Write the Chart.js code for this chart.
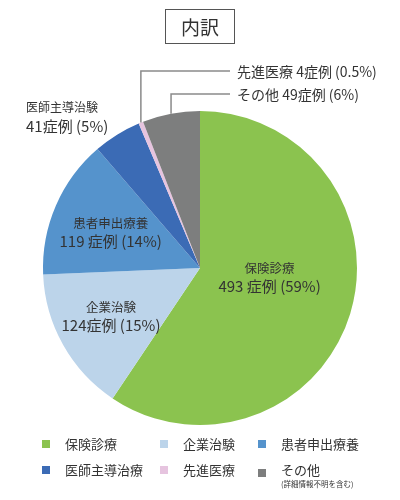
<!DOCTYPE html>
<html>
<head>
<meta charset="utf-8">
<script src="https://cdn.jsdelivr.net/npm/chart.js@4"></script>
<style>
  body { margin:0; background:#fff; font-family:"Noto Sans CJK JP", sans-serif; color:#333; }
  .wrap { position:relative; width:400px; height:500px; }
  #myChart { position:absolute; left:0; top:0; }
  .title { position:absolute; left:165px; top:9px; width:68px; height:33px; border:1px solid #555;
           font-size:19px; line-height:33px; text-align:center; }
  .legend-item { position:absolute; font-size:13px; line-height:16px; white-space:nowrap; }
  .legend-item i { position:absolute; left:-23px; top:4px; width:8px; height:8px; }
  .legend-item small { display:block; font-size:7.5px; line-height:9px; margin-top:1px; }
</style>
</head>
<body>
<div class="wrap">
  <canvas id="myChart" width="400" height="500"></canvas>
  <div class="title">内訳</div>
  <div id="legend"></div>
</div>
<script>
var categories = ['保険診療', '企業治験', '患者申出療養', '医師主導治験', '先進医療', 'その他']
var cases = [493, 124, 119, 41, 4, 49]
var percents = ['59%', '15%', '14%', '5%', '0.5%', '6%']
var legendNames = ['保険診療', '企業治験', '患者申出療養', '医師主導治療', '先進医療', 'その他']
var colors = ['#8bc34f', '#bcd4ea', '#5593cc', '#3b6bb5', '#e6c4df', '#7d7e7e']

// legend (3 columns)
var legendX = [65, 183, 281]
var legendY = [436, 462]
var legend = document.getElementById('legend')
legendNames.forEach(function(name, i){
    var d = document.createElement('div')
    d.className = 'legend-item'
    d.style.left = legendX[i % 3] + 'px'
    d.style.top = legendY[Math.floor(i / 3)] + 'px'
    d.innerHTML = '<i style="background:' + colors[i] + (i == 5 ? ';top:7px' : '') + '"></i>' + name +
        (i == 5 ? '<small>(詳細情報不明を含む)</small>' : '')
    legend.appendChild(d)
})

var font = '"Noto Sans CJK JP", sans-serif'

// label placement per slice
var labels = [
    { type: 'in', f: 0.45, dx: 2, dy: -12, l1: '保険診療', l2: '493 症例 (59%)' },
    { type: 'in', f: 0.65, dx: 0, dy: -3, l1: '企業治験', l2: '124症例 (15%)' },
    { type: 'in', f: 0.62, dx: 0, dy: 2, l1: '患者申出療養', l2: '119 症例 (14%)' },
    { type: 'left', x: 26, y: 107, l1: '医師主導治験', l2: '41症例 (5%)' },
    { type: 'line', y: 71, l1: '先進医療 4症例 (0.5%)' },
    { type: 'line', y: 94, l1: 'その他 49症例 (6%)' }
]

var labelPlugin = {
    id: 'sliceLabels',
    afterDatasetsDraw: function(chart) {
        var ctx = chart.ctx
        var meta = chart.getDatasetMeta(0)
        ctx.save()
        ctx.fillStyle = '#333'
        meta.data.forEach(function(arc, i){
            var p = arc.getProps(['x', 'y', 'startAngle', 'endAngle', 'outerRadius'], true)
            var mid = (p.startAngle + p.endAngle) / 2
            var lb = labels[i]
            if (lb.type == 'in') {
                var x = p.x + Math.cos(mid) * p.outerRadius * lb.f + lb.dx
                var y = p.y + Math.sin(mid) * p.outerRadius * lb.f + lb.dy
                ctx.textAlign = 'center'
                ctx.textBaseline = 'middle'
                ctx.font = '12.5px ' + font
                ctx.fillText(lb.l1, x, y - 8)
                ctx.font = '15px ' + font
                ctx.fillText(lb.l2, x, y + 10)
            } else if (lb.type == 'left') {
                ctx.textAlign = 'left'
                ctx.textBaseline = 'middle'
                ctx.font = '12px ' + font
                ctx.fillText(lb.l1, lb.x, lb.y)
                ctx.font = '15px ' + font
                ctx.fillText(lb.l2, lb.x, lb.y + 19)
            } else {
                var ex = p.x + Math.cos(mid) * p.outerRadius
                var ey = p.y + Math.sin(mid) * p.outerRadius
                ctx.strokeStyle = '#8a8a8a'
                ctx.lineWidth = 1.5
                ctx.beginPath()
                ctx.moveTo(ex, ey)
                ctx.lineTo(ex, lb.y)
                ctx.lineTo(230, lb.y)
                ctx.stroke()
                ctx.textAlign = 'left'
                ctx.textBaseline = 'middle'
                ctx.font = '14px ' + font
                ctx.fillText(lb.l1, 237, lb.y + 1)
            }
        })
        ctx.restore()
    }
}

var ctx = document.getElementById('myChart')
var myChart = new Chart(ctx, {
    type: 'pie',
    data: {
        labels: categories,
        datasets: [{
            data: cases,
            backgroundColor: colors,
            borderWidth: 0
        }]
    },
    options: {
        responsive: false,
        animation: false,
        layout: { padding: { top: 111, bottom: 75, left: 0, right: 0 } },
        plugins: {
            legend: { display: false },
            tooltip: { enabled: false }
        }
    },
    plugins: [labelPlugin]
})
</script>
</body>
</html>
